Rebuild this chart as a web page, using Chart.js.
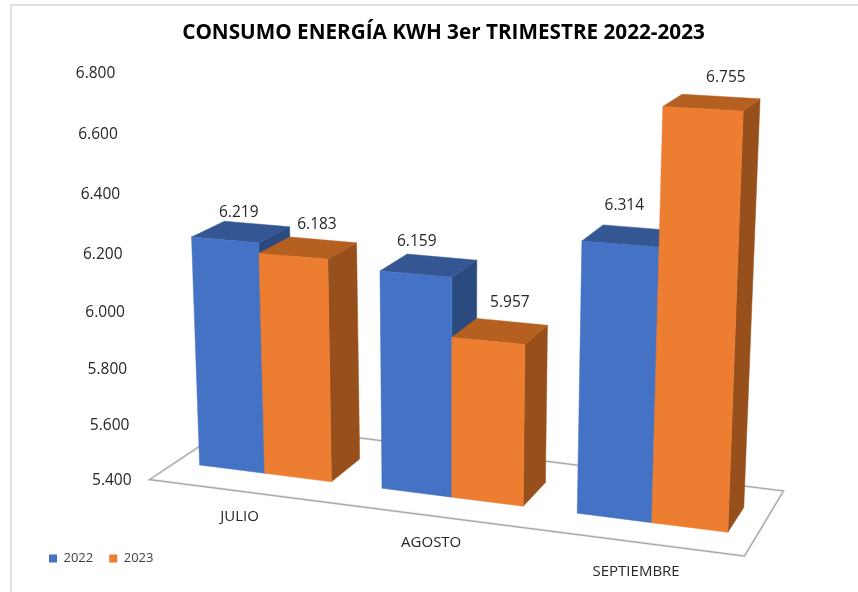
<!DOCTYPE html>
<html>
<head>
<meta charset="utf-8">
<title>Consumo energía</title>
<script src="https://cdn.jsdelivr.net/npm/chart.js@4"></script>
<style>
  html, body { margin: 0; padding: 0; background: #fff; overflow: hidden; }
  #frame { position: absolute; left: 10px; top: 4px; width: 860px; height: 600px; border-left: 2px solid #e0e0e0; border-top: 2px solid #e0e0e0; }
  #chart { position: absolute; left: 0; top: 0; }
</style>
</head>
<body>
<div id="frame"></div>
<canvas id="chart" width="858" height="592"></canvas>
<script>
// Values
const categories = ['JULIO', 'AGOSTO', 'SEPTIEMBRE'];
const values2022 = [6219, 6159, 6314];
const values2023 = [6183, 5957, 6755];
const yTicks = [5400, 5600, 5800, 6000, 6200, 6400, 6600, 6800];

// Nudges of the value labels from the top back edge of each bar
const labelNudge = [
  [[-18, -11], [-25, -16], [-16, -22]],
  [[-6, -15], [-2, -19], [5, -19]]
];
// Vertical drop of the category labels below the front floor edge
const categoryDrop = [25, 27, 30];

const faceColors = [
  { front: '#4472c4', top: '#345692', side: '#2b4a7f' },
  { front: '#ed7d31', top: '#b55f20', side: '#97501c' }
];

// Screen corners of the 3D box: bottom/top, front/back, left/right
const box = {
  bfl: [176, 462], bfr: [756.5, 536], bbl: [209, 440], bbr: [771.5, 511],
  tfl: [160.5, 64], tfr: [774, 98], tbl: [194.5, 53], tbr: [790, 86]
};
const floorFront = -0.8;
const floorBack = 1.8;

function lerp(a, b, k) {
  return [a[0] + (b[0] - a[0]) * k, a[1] + (b[1] - a[1]) * k];
}

// t: along the axis, v: height, d: depth (0 front of bars, 1 back of bars)
function project(t, v, d) {
  const tw = 0.9 * t + 0.1 * t * t;
  const vw = 0.94 * v + 0.06 * v * v;
  const bottomFront = lerp(box.bfl, box.bfr, tw);
  const bottomBack = lerp(box.bbl, box.bbr, tw);
  const topFront = lerp(box.tfl, box.tfr, tw);
  const topBack = lerp(box.tbl, box.tbr, tw);
  return lerp(lerp(bottomFront, topFront, vw), lerp(bottomBack, topBack, vw), d);
}

function poly(ctx, pts, color) {
  ctx.beginPath();
  pts.forEach((p, i) => i ? ctx.lineTo(p[0], p[1]) : ctx.moveTo(p[0], p[1]));
  ctx.closePath();
  ctx.fillStyle = color;
  ctx.fill();
  ctx.strokeStyle = color;
  ctx.lineWidth = 0.5;
  ctx.stroke();
}

function fmt(n) {
  return String(n).replace(/\B(?=(\d{3})+$)/g, '.');
}

const bars3d = {
  id: 'bars3d',
  beforeDatasetsDraw(chart) {
    const ctx = chart.ctx;
    const area = chart.chartArea;
    const yScale = chart.scales.y;
    const xScale = chart.scales.x;
    const toT = px => (px - area.left) / area.width;
    const toV = py => (area.bottom - py) / area.height;
    const v0 = toV(yScale.getPixelForValue(yScale.min));

    ctx.save();

    // floor
    const floor = [
      project(0, v0, floorFront), project(1, v0, floorFront),
      project(1, v0, floorBack), project(0, v0, floorBack)
    ];
    ctx.beginPath();
    floor.forEach((p, i) => i ? ctx.lineTo(p[0], p[1]) : ctx.moveTo(p[0], p[1]));
    ctx.closePath();
    ctx.strokeStyle = '#e6e6e6';
    ctx.lineWidth = 2.5;
    ctx.stroke();
    ctx.strokeStyle = '#a6a6a6';
    ctx.lineWidth = 1.2;
    ctx.stroke();

    // bars, left to right so the nearer ones cover the sides
    categories.forEach((c, i) => {
      [0, 1].forEach(s => {
        const el = chart.getDatasetMeta(s).data[i];
        const t0 = toT(el.x - el.width / 2);
        const t1 = toT(el.x + el.width / 2);
        const v = toV(el.y);
        const col = faceColors[s];
        poly(ctx, [project(t1, v0, 0), project(t1, v0, 1), project(t1, v, 1), project(t1, v, 0)], col.side);
        poly(ctx, [project(t0, v, 0), project(t1, v, 0), project(t1, v, 1), project(t0, v, 1)], col.top);
        poly(ctx, [project(t0, v0, 0), project(t1, v0, 0), project(t1, v, 0), project(t0, v, 0)], col.front);
      });
    });

    // value labels
    ctx.font = '15.5px "Open Sans"';
    ctx.fillStyle = '#262626';
    ctx.textAlign = 'center';
    ctx.textBaseline = 'middle';
    categories.forEach((c, i) => {
      [0, 1].forEach(s => {
        const el = chart.getDatasetMeta(s).data[i];
        const p = project(toT(el.x), toV(el.y), 1);
        const n = labelNudge[s][i];
        const val = chart.data.datasets[s].data[i];
        ctx.fillText(fmt(val), p[0] + n[0], p[1] + n[1]);
      });
    });

    // category labels under the front floor edge
    ctx.font = '15px "Open Sans"';
    categories.forEach((c, i) => {
      const p = project(toT(xScale.getPixelForValue(i)), v0, floorFront);
      ctx.fillText(c, p[0] - 1, p[1] + categoryDrop[i]);
    });

    // value axis labels along the left side of the box
    ctx.font = '15.5px "Open Sans"';
    ctx.textAlign = 'right';
    yTicks.forEach(tick => {
      const p = project(0, toV(yScale.getPixelForValue(tick)), floorFront);
      ctx.fillText(fmt(tick), p[0] - 18, p[1] + 1);
    });

    ctx.restore();
    return false;
  }
};

new Chart(document.getElementById('chart'), {
  type: 'bar',
  data: {
    labels: categories,
    datasets: [
      { label: '2022', data: values2022, backgroundColor: faceColors[0].front },
      { label: '2023', data: values2023, backgroundColor: faceColors[1].front }
    ]
  },
  plugins: [bars3d],
  options: {
    responsive: false,
    animation: false,
    categoryPercentage: 0.73,
    barPercentage: 1,
    layout: { padding: { left: 33, right: 4, bottom: 17 } },
    plugins: {
      title: {
        display: true,
        text: 'CONSUMO ENERGÍA KWH 3er TRIMESTRE 2022-2023',
        color: '#000',
        font: { family: '"Open Sans"', size: 20.7, weight: '700' },
        padding: { top: 21, bottom: 10 }
      },
      legend: {
        position: 'bottom',
        align: 'start',
        labels: {
          boxWidth: 8,
          boxHeight: 8,
          padding: 16,
          color: '#404040',
          font: { family: '"Open Sans"', size: 13 }
        }
      },
      tooltip: { enabled: false }
    },
    scales: {
      x: { display: false },
      y: { display: false, min: 5400, max: 6800, ticks: { stepSize: 200 } }
    }
  }
});
</script>
</body>
</html>
